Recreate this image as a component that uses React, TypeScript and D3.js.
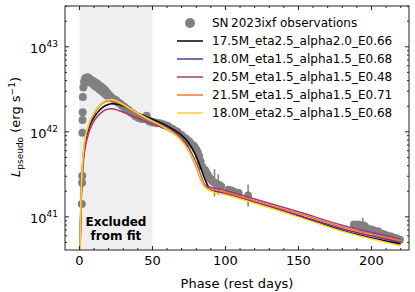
import React, { useEffect, useRef } from 'react';
import * as d3 from 'd3';

// Observed pseudo-bolometric light curve (log10 L in erg/s)
const obsPhase = [
  1.6, 1.8, 1.9, 2.0, 2.1, 2.2, 2.3, 2.7, 3.2,
  4, 4.5, 5, 5.5, 6, 6.5, 7, 7.5, 8, 8.5, 9, 9.5, 10, 10.5, 11, 11.5, 12, 12.5, 13, 13.5, 14, 14.5,
  15, 15.5, 16, 16.5, 17, 17.5, 18, 18.5, 19, 19.5, 20, 21, 22, 23, 24, 25, 26, 27, 28, 29, 30,
  31, 32, 33, 34, 35, 36, 37, 38, 39, 40, 41, 42, 43, 44, 45, 46, 47, 48, 49, 50, 52, 53, 55,
  57, 58, 60, 61, 63, 64, 66, 67, 69, 70, 72, 73, 75, 76, 78, 79, 80, 81, 82, 83, 84, 86, 87,
  88, 89, 90, 91, 92.5, 93.5, 95, 96, 97, 102, 103, 104, 105, 106, 108, 109, 115.5,
  188, 189.5, 191, 192.5, 194, 195.5, 197, 198.5, 200, 201.5, 203, 204.5, 206, 207.5, 209,
  210.5, 212, 213.5, 215, 216.5, 218, 219.5,
];
const obsLogL = [
  41.15, 41.40, 41.48, 41.99, 42.14, 42.23, 42.41, 42.52, 42.59,
  42.63, 42.58, 42.64, 42.59, 42.64, 42.59, 42.62, 42.58, 42.61, 42.57, 42.60, 42.56, 42.59, 42.54, 42.57, 42.53, 42.57, 42.52, 42.55, 42.50, 42.54, 42.49,
  42.53, 42.48, 42.51, 42.46, 42.50, 42.45, 42.48, 42.43, 42.46, 42.42, 42.44, 42.42, 42.40, 42.39, 42.38, 42.37, 42.35, 42.34, 42.33, 42.31, 42.30,
  42.29, 42.27, 42.26, 42.25, 42.23, 42.22, 42.21, 42.19, 42.18, 42.17, 42.16, 42.16, 42.15, 42.15, 42.17, 42.19, 42.14, 42.12, 42.12, 42.11, 42.11, 42.10, 42.10,
  42.09, 42.08, 42.07, 42.06, 42.04, 42.03, 42.01, 42.00, 41.97, 41.96, 41.93, 41.92, 41.89, 41.87, 41.84, 41.82, 41.79, 41.76, 41.71, 41.65, 41.59, 41.55, 41.52,
  41.49, 41.46, 41.44, 41.42, 41.40, 41.39, 41.38, 41.37, 41.36, 41.32, 41.31, 41.31, 41.30, 41.29, 41.28, 41.28, 41.25,
  40.91, 40.90, 40.91, 40.88, 40.90, 40.89, 40.86, 40.85, 40.85, 40.84, 40.82, 40.83, 40.80, 40.80, 40.79,
  40.78, 40.77, 40.77, 40.75, 40.75, 40.74, 40.73,
];

// Error bars (log10 L, centre and half-width in dex)
const errPhase = [90, 92.5, 95, 115.5, 194, 195.5];
const errLogL = [41.44, 41.40, 41.38, 41.25, 40.90, 40.89];
const errDex = [0.05, 0.16, 0.12, 0.13, 0.09, 0.05];

// Model light curves
const modelPhase = [0, 0.5, 1, 2, 3, 4, 5, 7, 10, 14, 18, 22, 27, 33, 40, 47, 54, 60, 65, 70, 74, 77, 80, 83, 85, 87, 89, 92, 100, 120, 150, 180, 220];
const m175_eta25_a20 = [39.8, 40.7, 41.12, 41.54, 41.76, 41.88, 41.96, 42.07, 42.17, 42.26, 42.31, 42.33, 42.32, 42.28, 42.22, 42.17, 42.12, 42.07, 42.02, 41.96, 41.89, 41.81, 41.71, 41.58, 41.48, 41.40, 41.34, 41.31, 41.27, 41.17, 41.01, 40.84, 40.68];
const m180_eta15_a15 = [39.8, 40.7, 41.15, 41.57, 41.79, 41.91, 41.99, 42.10, 42.21, 42.31, 42.36, 42.37, 42.34, 42.28, 42.22, 42.16, 42.10, 42.05, 41.99, 41.92, 41.83, 41.74, 41.63, 41.49, 41.40, 41.35, 41.33, 41.31, 41.28, 41.18, 41.02, 40.86, 40.70];
const m205_eta15_a15 = [39.8, 40.6, 41.05, 41.48, 41.70, 41.82, 41.90, 42.02, 42.13, 42.21, 42.26, 42.27, 42.25, 42.21, 42.16, 42.11, 42.07, 42.03, 41.98, 41.91, 41.82, 41.73, 41.62, 41.48, 41.40, 41.36, 41.35, 41.34, 41.31, 41.21, 41.06, 40.90, 40.74];
const m215_eta15_a15 = [39.8, 40.7, 41.15, 41.58, 41.80, 41.92, 42.00, 42.11, 42.22, 42.31, 42.36, 42.37, 42.34, 42.28, 42.21, 42.15, 42.09, 42.04, 41.98, 41.90, 41.80, 41.70, 41.58, 41.44, 41.37, 41.34, 41.33, 41.32, 41.29, 41.19, 41.04, 40.88, 40.72];
const m180_eta25_a15 = [39.8, 40.75, 41.18, 41.60, 41.82, 41.94, 42.01, 42.12, 42.23, 42.32, 42.37, 42.38, 42.35, 42.29, 42.22, 42.15, 42.09, 42.03, 41.97, 41.89, 41.80, 41.71, 41.60, 41.46, 41.38, 41.33, 41.31, 41.29, 41.26, 41.16, 41.00, 40.83, 40.66];

const modelNames = [
  '17.5M_eta2.5_alpha2.0_E0.66',
  '18.0M_eta1.5_alpha1.5_E0.68',
  '20.5M_eta1.5_alpha1.5_E0.48',
  '21.5M_eta1.5_alpha1.5_E0.71',
  '18.0M_eta2.5_alpha1.5_E0.68',
];
const modelValues = [m175_eta25_a20, m180_eta15_a15, m205_eta15_a15, m215_eta15_a15, m180_eta25_a15];
const modelColors = ['#000000', '#62358c', '#b3336f', '#f2743a', '#fad22f'];

const xTicks = [0, 50, 100, 150, 200];
const yTickExps = [41, 42, 43];

const App: React.FC = () => {
  const chartRef = useRef<SVGSVGElement | null>(null);

  useEffect(() => {
    if (!chartRef.current) return;
    const svg = d3.select(chartRef.current);
    svg.selectAll('*').remove();
    const font = 'DejaVu Sans';

    // plot box
    const left = 65, right = 409, top = 6, bottom = 250;

    const x = d3.scaleLinear().domain([-9.9, 225.7]).range([left, right]);
    const y = d3.scaleLog().domain([10 ** 40.61, 10 ** 43.48]).range([bottom, top]);

    svg.append('defs').append('clipPath').attr('id', 'plotclip')
      .append('rect').attr('x', left).attr('y', top).attr('width', right - left).attr('height', bottom - top);

    const plot = svg.append('g').attr('clip-path', 'url(#plotclip)');

    // excluded region
    plot.append('rect')
      .attr('x', x(0)).attr('y', top)
      .attr('width', x(50) - x(0)).attr('height', bottom - top)
      .attr('fill', '#efefef');

    svg.append('text')
      .attr('x', x(25)).attr('y', 226)
      .attr('text-anchor', 'middle')
      .style('font-family', font).style('font-size', '12px').style('font-weight', 'bold')
      .text('Excluded');
    svg.append('text')
      .attr('x', x(25)).attr('y', 240)
      .attr('text-anchor', 'middle')
      .style('font-family', font).style('font-size', '12px').style('font-weight', 'bold')
      .text('from fit');

    // error bars
    errPhase.forEach((p, i) => {
      plot.append('line')
        .attr('x1', x(p)).attr('x2', x(p))
        .attr('y1', y(10 ** (errLogL[i] - errDex[i])))
        .attr('y2', y(10 ** (errLogL[i] + errDex[i])))
        .attr('stroke', '#808080').attr('stroke-width', 1.5);
    });

    // observations
    plot.selectAll('.obs')
      .data(obsPhase.map((p, i) => ({ p, l: obsLogL[i] })))
      .enter().append('circle')
      .attr('class', 'obs')
      .attr('cx', (d) => x(d.p))
      .attr('cy', (d) => y(10 ** d.l))
      .attr('r', 4)
      .attr('fill', '#808080');

    // models
    const line = d3.line<{ p: number; l: number }>()
      .x((d) => x(d.p))
      .y((d) => y(10 ** d.l))
      .curve(d3.curveMonotoneX);

    modelValues.forEach((vals, k) => {
      plot.append('path')
        .datum(modelPhase.map((p, i) => ({ p, l: vals[i] })))
        .attr('d', line)
        .attr('fill', 'none')
        .attr('stroke', modelColors[k])
        .attr('stroke-width', 1.5);
    });

    // frame
    svg.append('rect')
      .attr('x', left).attr('y', top)
      .attr('width', right - left).attr('height', bottom - top)
      .attr('fill', 'none').attr('stroke', '#222').attr('stroke-width', 1);

    const ticks = svg.append('g').attr('stroke', '#222').attr('stroke-width', 1);

    // x ticks (inward, bottom & top)
    for (let v = 0; v <= 220; v += 10) {
      const len = v % 50 === 0 ? 4 : 2;
      const xv = x(v);
      ticks.append('line').attr('x1', xv).attr('x2', xv).attr('y1', bottom).attr('y2', bottom - len);
      ticks.append('line').attr('x1', xv).attr('x2', xv).attr('y1', top).attr('y2', top + len);
    }
    xTicks.forEach((v) => {
      svg.append('text')
        .attr('x', x(v)).attr('y', 265)
        .attr('text-anchor', 'middle')
        .style('font-family', font).style('font-size', '13px')
        .text(String(v));
    });

    // y ticks (log, inward, left & right)
    for (let e = 40; e <= 43; e++) {
      for (let k = 1; k <= 9; k++) {
        const val = k * 10 ** e;
        if (val < y.domain()[0] || val > y.domain()[1]) continue;
        const len = k === 1 ? 4 : 2;
        const yv = y(val);
        ticks.append('line').attr('x1', left).attr('x2', left + len).attr('y1', yv).attr('y2', yv);
        ticks.append('line').attr('x1', right).attr('x2', right - len).attr('y1', yv).attr('y2', yv);
      }
    }
    yTickExps.forEach((e) => {
      const t = svg.append('text')
        .attr('x', 58).attr('y', y(10 ** e) + 6)
        .attr('text-anchor', 'end')
        .style('font-family', font).style('font-size', '13px');
      t.append('tspan').text('10');
      t.append('tspan').attr('dy', -6).style('font-size', '9px').text(String(e));
    });

    // axis labels
    svg.append('text')
      .attr('x', (left + right) / 2).attr('y', 288)
      .attr('text-anchor', 'middle')
      .style('font-family', font).style('font-size', '13px')
      .text('Phase (rest days)');

    const yl = svg.append('text')
      .attr('transform', 'translate(20,127) rotate(-90)')
      .attr('text-anchor', 'middle')
      .style('font-family', font).style('font-size', '13px');
    yl.append('tspan').style('font-style', 'italic').text('L');
    yl.append('tspan').attr('dy', 3).style('font-size', '9px').text('pseudo');
    yl.append('tspan').attr('dy', -3).text(' (erg s');
    yl.append('tspan').attr('dy', -5).style('font-size', '9px').text('\u22121');
    yl.append('tspan').attr('dy', 5).text(')');

    // legend
    const legend = svg.append('g').style('font-family', font).style('font-size', '12px');
    const rowY = (i: number) => 23 + i * 18;
    legend.append('circle').attr('cx', 190).attr('cy', rowY(0)).attr('r', 5).attr('fill', '#808080');
    legend.append('text').attr('x', 212).attr('y', rowY(0) + 4.4).text('SN\u20092023ixf observations');
    modelNames.forEach((name, k) => {
      legend.append('line')
        .attr('x1', 177).attr('x2', 203)
        .attr('y1', rowY(k + 1)).attr('y2', rowY(k + 1))
        .attr('stroke', modelColors[k]).attr('stroke-width', 1.5);
      legend.append('text').attr('x', 212).attr('y', rowY(k + 1) + 4.4).text(name);
    });
  }, []);

  return (
    <svg
      ref={chartRef}
      width={415}
      height={292}
      style={{ position: 'absolute', left: 0, top: 0, background: '#fff' }}
    ></svg>
  );
};

export default App;
